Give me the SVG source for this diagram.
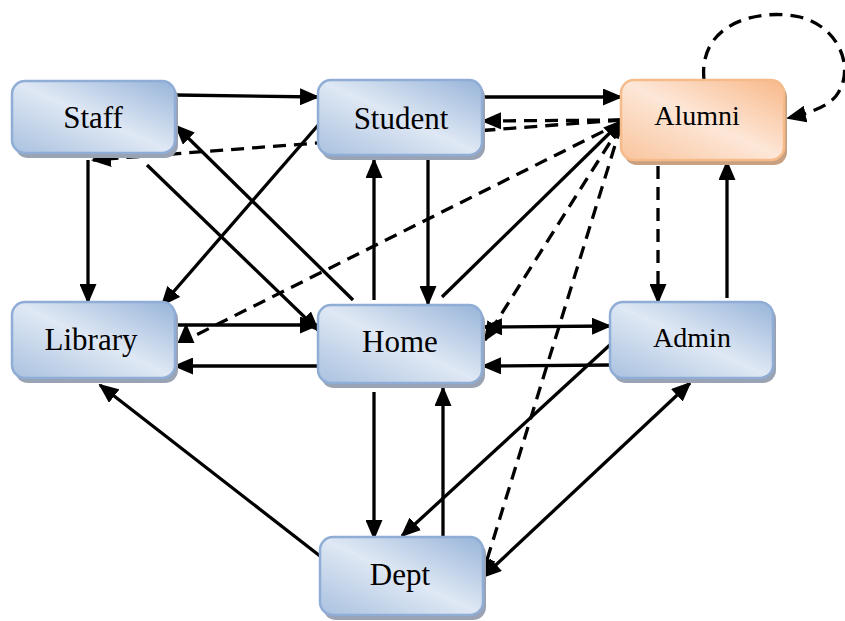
<svg xmlns="http://www.w3.org/2000/svg" width="845" height="621" viewBox="0 0 845 621">
<defs>
<linearGradient id="gb" x1="1" y1="0" x2="0" y2="1">
<stop offset="0" stop-color="#97b4d9"/>
<stop offset="0.5" stop-color="#dfe8f4"/>
<stop offset="1" stop-color="#a9c1df"/>
</linearGradient>
<linearGradient id="go" x1="1" y1="0" x2="0" y2="1">
<stop offset="0" stop-color="#f8b889"/>
<stop offset="0.5" stop-color="#fde7d8"/>
<stop offset="1" stop-color="#f9c49c"/>
</linearGradient>
<marker id="ah" viewBox="0 0 20 17" refX="18" refY="8.5" markerWidth="20" markerHeight="17" markerUnits="userSpaceOnUse" orient="auto-start-reverse">
<path d="M0,0 L20,8.5 L0,17 z" fill="#000" stroke="none"/>
</marker>
</defs>
<style>
.box{fill:url(#gb);stroke:#8fadd5;stroke-width:2.5}
.boxo{fill:url(#go);stroke:#f6bb8b;stroke-width:2.5}
.sh{fill:#9aa3b3}
.sho{fill:#c9a080}
.lbl{font-family:"Liberation Serif","Times New Roman",serif;font-size:31px;fill:#000;text-anchor:middle}
.sm{font-size:28px}
.e{fill:none;stroke:#000;stroke-width:3.3;marker-end:url(#ah)}
.d{stroke-dasharray:13 8}
.b{marker-start:url(#ah)}
</style>
<rect width="845" height="621" fill="#fff"/>
<g id="connectors">
<line class="e" x1="175" y1="95" x2="318" y2="97"/>
<line class="e" x1="483" y1="97" x2="621" y2="97"/>
<line class="e d" x1="621" y1="120" x2="483" y2="121"/>
<line class="e d" x1="621" y1="120" x2="93" y2="160"/>
<line class="e" x1="88" y1="160" x2="88" y2="302"/>
<line class="e" x1="147" y1="165" x2="318" y2="330"/>
<line class="e" x1="353" y1="300" x2="176" y2="126"/>
<line class="e" x1="320" y1="123" x2="162" y2="305"/>
<path class="e d" d="M622,122 L186,340 L186,325"/>
<line class="e" x1="178" y1="325" x2="318" y2="325"/>
<line class="e" x1="318" y1="366" x2="175" y2="366"/>
<line class="e" x1="428" y1="160" x2="428" y2="304"/>
<line class="e" x1="374" y1="300" x2="374" y2="160"/>
<line class="e" x1="442" y1="297" x2="622" y2="121"/>
<line class="e d" x1="621" y1="125" x2="485" y2="340"/>
<line class="e b" x1="484" y1="327" x2="610" y2="326"/>
<line class="e" x1="610" y1="365" x2="483" y2="366"/>
<line class="e d" x1="658" y1="166" x2="658" y2="302"/>
<line class="e" x1="727" y1="298" x2="727" y2="162"/>
<path class="e d" d="M704,80 C698,22 760,8 800,17 C840,27 856,70 836,96 C826,108 806,114 788,118"/>
<line class="e" x1="374" y1="392" x2="374" y2="538"/>
<line class="e" x1="443" y1="536" x2="443" y2="388"/>
<line class="e" x1="612" y1="343" x2="402" y2="536"/>
<line class="e d" x1="621" y1="126" x2="482" y2="576"/>
<line class="e b" x1="690" y1="383" x2="483" y2="577"/>
<line class="e" x1="320" y1="556" x2="100" y2="385"/>
</g>
<g id="staff">
<rect class="sh" x="15" y="85" width="163" height="73" rx="13"/>
<rect class="box" x="12" y="81" width="163" height="72" rx="13"/>
<text class="lbl" x="93" y="128">Staff</text>
</g>
<g id="student">
<rect class="sh" x="321" y="84" width="164" height="76" rx="13"/>
<rect class="box" x="318" y="80" width="164" height="75" rx="13"/>
<text class="lbl" x="401" y="129">Student</text>
</g>
<g id="alumni">
<rect class="sho" x="624" y="84" width="163" height="81" rx="13"/>
<rect class="boxo" x="621" y="80" width="163" height="80" rx="13"/>
<text class="lbl sm" x="697" y="125">Alumni</text>
</g>
<g id="library">
<rect class="sh" x="15" y="306" width="163" height="77" rx="13"/>
<rect class="box" x="12" y="302" width="163" height="76" rx="13"/>
<text class="lbl" x="91" y="350">Library</text>
</g>
<g id="home">
<rect class="sh" x="321" y="309" width="164" height="79" rx="13"/>
<rect class="box" x="318" y="305" width="164" height="78" rx="13"/>
<text class="lbl" x="400" y="352">Home</text>
</g>
<g id="admin">
<rect class="sh" x="613" y="306" width="163" height="77" rx="13"/>
<rect class="box" x="610" y="302" width="163" height="76" rx="13"/>
<text class="lbl sm" x="692" y="347">Admin</text>
</g>
<g id="dept">
<rect class="sh" x="323" y="541" width="163" height="79" rx="13"/>
<rect class="box" x="320" y="537" width="163" height="78" rx="13"/>
<text class="lbl" x="400" y="585">Dept</text>
</g>
</svg>
